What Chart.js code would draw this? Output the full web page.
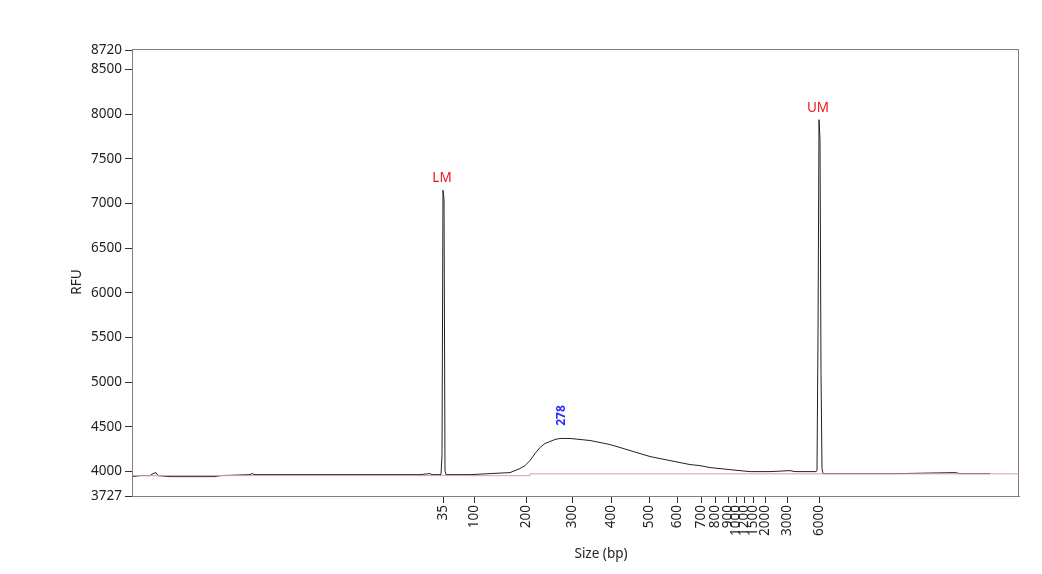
<!DOCTYPE html>
<html>
<head>
<meta charset="utf-8">
<script src="https://cdn.jsdelivr.net/npm/chart.js@4.4.0/dist/chart.umd.min.js"></script>
<style>
  html, body { margin: 0; padding: 0; background: #fff; }
  #wrap { width: 1042px; height: 574px; position: relative; }
</style>
</head>
<body>
<div id="wrap"><canvas id="trace_canvas" width="1042" height="574"></canvas></div>
<script>
// Migrationsposition (willkürliche Einheit) und Signal in RFU
const traceX = [0, 8, 18, 21, 24, 26, 38, 68, 83, 88, 118, 120, 123, 168, 218, 268, 288, 298, 300,
  308, 309, 310, 311, 312, 313, 314, 338, 358, 378, 388, 393, 398, 403, 408, 413, 418, 423, 428,
  438, 448, 458, 468, 478, 488, 498, 508, 518, 528, 538, 548, 558, 568, 578, 588, 598, 608, 618,
  638, 658, 663, 678, 684, 685, 686, 687, 688, 689, 690, 691, 698, 718, 768, 823, 828, 858];
const traceRFU = [3944, 3955, 3955, 3978, 3989, 3955, 3944, 3944, 3944, 3955, 3966, 3978, 3966, 3966, 3966, 3966, 3966, 3978, 3966,
  3966, 3970, 4180, 7150, 7050, 4011, 3966, 3966, 3978, 3989, 4034, 4067, 4124, 4202, 4270, 4315, 4337, 4360, 4371,
  4371, 4360, 4348, 4326, 4303, 4270, 4236, 4202, 4169, 4146, 4124, 4101, 4079, 4067, 4045, 4034, 4022, 4011, 4000,
  4000, 4011, 4000, 4000, 4000, 4011, 5530, 7940, 7720, 5110, 4034, 3978, 3978, 3978, 3978, 3989, 3978, 3978];

// Basislinie
const baseX = [0, 398, 398, 887];
const baseRFU = [3955, 3955, 3975, 3975];

// Leiter: Größen (bp) und ihre Migrationsposition
const ladderSizes = [35, 100, 200, 300, 400, 500, 600, 700, 800, 900, 1000, 1200, 1500, 2000, 3000, 6000];
const ladderPos = [311, 342, 394, 440, 479, 517, 545, 569, 583, 596, 604, 612, 621, 633, 655, 687];

// Y-Achse
const yTicks = [3727, 4000, 4500, 5000, 5500, 6000, 6500, 7000, 7500, 8000, 8500, 8720];

// Peak-Beschriftungen
const peakLabels = ['LM', '278', 'UM'];
const peakPos = [311, 430, 687];
const peakRFU = [7150, 4371, 7940];
const peakColors = ['#e8141e', '#2b2bff', '#e8141e'];

const FONT = '"Noto Sans", "Open Sans", sans-serif';

const framePlugin = {
  id: 'frame',
  afterDraw(chart) {
    const { ctx, chartArea: a, scales } = chart;
    ctx.save();
    ctx.strokeStyle = '#808080';
    ctx.lineWidth = 1;
    ctx.strokeRect(Math.round(a.left) + 0.5, Math.round(a.top) - 0.5,
      Math.round(a.right - a.left) - 1, Math.round(a.bottom - a.top) + 1);

    // Peak labels
    ctx.textAlign = 'center';
    ctx.textBaseline = 'middle';
    peakLabels.forEach((txt, i) => {
      const px = scales.x.getPixelForValue(peakPos[i]);
      const py = scales.y.getPixelForValue(peakRFU[i]);
      ctx.fillStyle = peakColors[i];
      if (txt === 'LM' || txt === 'UM') {
        ctx.font = '13.5px ' + FONT;
        ctx.fillText(txt, px - 1, py - 12);
      } else {
        ctx.save();
        ctx.translate(px, py - 23);
        ctx.rotate(-Math.PI / 2);
        ctx.font = 'bold 12px ' + FONT;
        ctx.fillText(txt, 0, 0);
        ctx.restore();
      }
    });

    // Achsentitel
    ctx.fillStyle = '#222';
    ctx.font = '13.5px ' + FONT;
    ctx.fillText('Size (bp)', 601, 554);
    ctx.save();
    ctx.translate(77, 282);
    ctx.rotate(-Math.PI / 2);
    ctx.fillText('RFU', 0, 0);
    ctx.restore();
    ctx.restore();
  }
};

new Chart(document.getElementById('trace_canvas'), {
  type: 'line',
  data: {
    datasets: [
      {
        label: 'Basislinie',
        data: baseX.map((x, i) => ({ x: x, y: baseRFU[i] })),
        borderColor: '#d8a0a4',
        borderWidth: 1,
        pointRadius: 0
      },
      {
        label: 'Signal',
        data: traceX.map((x, i) => ({ x: x, y: traceRFU[i] })),
        borderColor: '#222',
        borderWidth: 1,
        pointRadius: 0
      }
    ]
  },
  options: {
    responsive: false,
    animation: false,
    devicePixelRatio: 1,
    layout: { padding: { left: 0, right: 23, top: 50, bottom: 0 } },
    plugins: {
      legend: { display: false },
      tooltip: { enabled: false }
    },
    scales: {
      x: {
        type: 'linear',
        min: 0,
        max: 887,
        afterBuildTicks: s => { s.ticks = ladderPos.map(v => ({ value: v })); },
        afterFit: s => { s.height = 78; },
        grid: { drawOnChartArea: false, drawTicks: true, tickLength: 7, color: '#333' },
        border: { display: true, color: '#808080' },
        ticks: {
          autoSkip: false,
          minRotation: 90,
          maxRotation: 90,
          padding: 2,
          color: '#222',
          font: { family: FONT, size: 13.5 },
          callback: (value, index) => String(ladderSizes[index])
        }
      },
      y: {
        type: 'linear',
        min: 3727,
        max: 8720,
        afterBuildTicks: s => { s.ticks = yTicks.map(v => ({ value: v })); },
        afterFit: s => { s.width = 132; },
        grid: { drawOnChartArea: false, drawTicks: true, tickLength: 7, color: '#333' },
        border: { display: true, color: '#808080' },
        ticks: {
          autoSkip: false,
          padding: 3,
          color: '#222',
          font: { family: FONT, size: 13.5 },
          callback: v => String(v)
        }
      }
    }
  },
  plugins: [framePlugin]
});
</script>
</body>
</html>
